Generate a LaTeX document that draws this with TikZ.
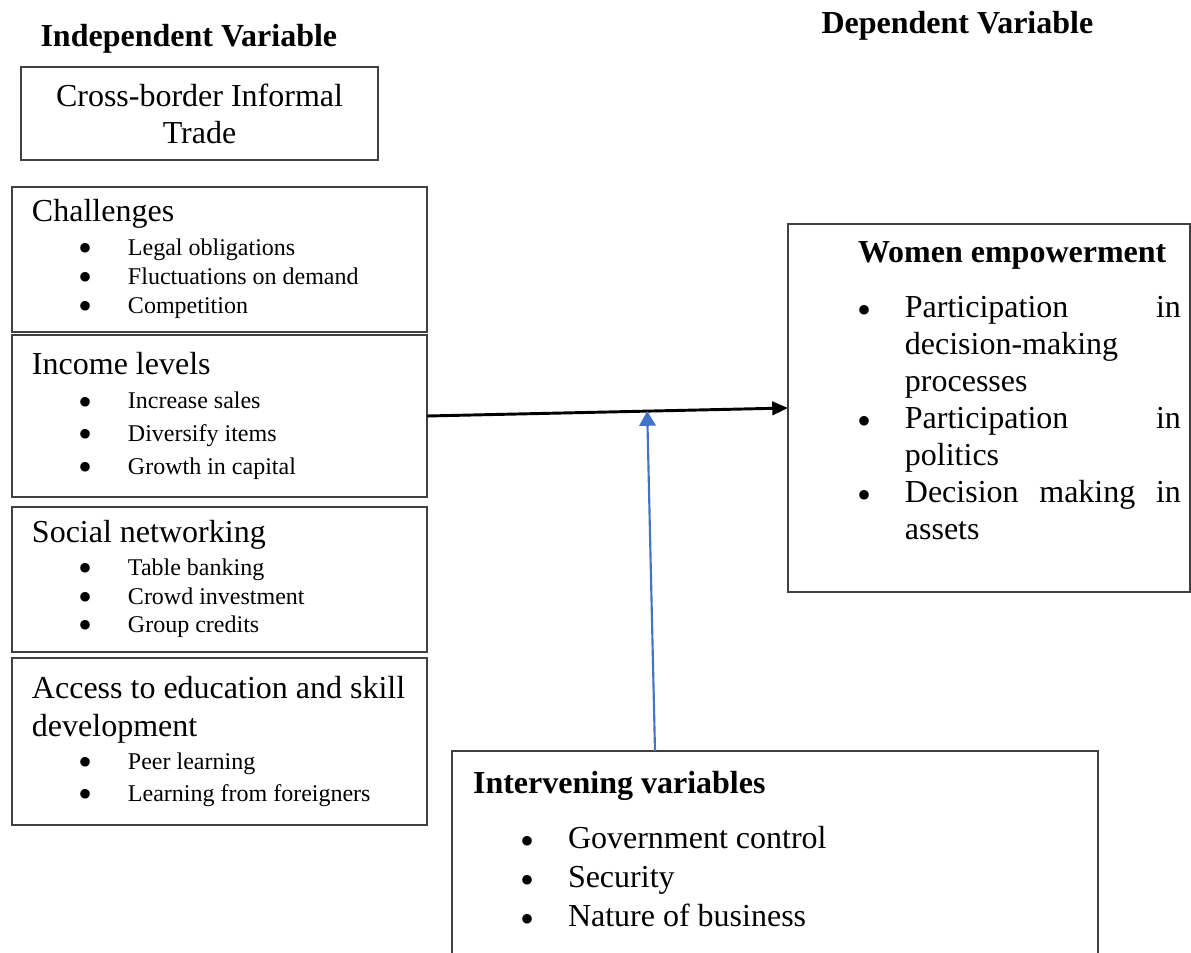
\documentclass[tikz,border=0pt]{standalone}
\usepackage{fontspec}
\setmainfont{Liberation Serif}
\usetikzlibrary{positioning,arrows.meta,calc}
\setlength{\parindent}{0pt}
\definecolor{ablue}{HTML}{4472C4}
\tikzstyle{vbox}=[rectangle, draw=black!75, line width=0.7pt, inner sep=0pt, outer sep=0pt]
\tikzstyle{lbox}=[vbox, minimum width=155.6pt, text width=140.6pt, inner xsep=7.5pt, align=left,
 execute at begin node={\spaceskip=0pt\xspaceskip=0pt\relax}]
\tikzstyle{ttl}=[inner sep=0pt, font={\fontsize{12}{13.9}\selectfont\bfseries}]
\tikzstyle{txt}=[inner sep=0pt, outer sep=0pt, align=left,
 execute at begin node={\spaceskip=0pt\xspaceskip=0pt\relax}]
\tikzstyle{blk}=[-{Triangle[length=5.9pt,width=5pt]}, line width=1.1pt, black]
\tikzstyle{bline}=[-{Triangle[length=5.5pt,width=6.2pt]}, line width=0.8pt, ablue]
\newcommand{\bdot}{\raisebox{-2.3pt}{\fontsize{15}{15}\selectfont\textbullet}}
\newcommand{\sm}[1]{\fontsize{9}{#1}\selectfont}
\newcommand{\lit}[1]{\hspace*{20.25pt}\makebox[0pt]{\bdot}\hspace*{15.75pt}#1}
\newcommand{\rit}[1]{\hspace*{2.6pt}\makebox[0pt]{\bdot}\hspace*{15pt}#1}
\newcommand{\iit}[1]{\hspace*{20.25pt}\makebox[0pt]{\bdot}\hspace*{15.35pt}#1}

\begin{document}
\begin{tikzpicture}[x=0.375pt, y=-0.375pt, font=\fontsize{12}{13.9}\selectfont]
\useasboundingbox (0,0) rectangle (1191,953);
\clip (0,0) rectangle (1191,953);

% headings
    \node (ivt) [ttl, anchor=base west] at (40,47) {Independent Variable};
    \node (dvt) [ttl, anchor=base west] at (821,33) {Dependent Variable};

% independent side
    \node (cbt) [vbox, anchor=north west, minimum width=133.9pt, minimum height=34.9pt, align=center] at (21,67)
	{Cross-border Informal\\Trade};

    \node (chl) [lbox, anchor=north west, minimum height=54.4pt] at (12,187)
	{Challenges\par\vspace{1.85pt}
	{\sm{10.9}\lit{Legal obligations}\par\lit{Fluctuations on demand}\par\lit{Competition}\par}};
    \node (inc) [lbox, minimum height=60.75pt, below=1.1pt of chl]
	{Income levels\par\vspace{0.9pt}
	{\sm{12.2}\lit{Increase sales}\par\lit{Diversify items}\par\lit{Growth in capital}\par}};
    \node (soc) [lbox, minimum height=54.4pt, below=3.75pt of inc]
	{Social networking\par\vspace{1.7pt}
	{\sm{10.7}\lit{Table banking}\par\lit{Crowd investment}\par\lit{Group credits}\par}};
    \node (edu) [lbox, minimum height=62.6pt, below=2.25pt of soc]
	{{\fontsize{12}{14.25}\selectfont\mbox{Access to education and skill}\newline development\par}\vspace{0.4pt}
	{\sm{12}\lit{Peer learning}\par\lit{Learning from foreigners}\par}};

% dependent side
    \node (wom) [vbox, anchor=north west, minimum width=150.75pt, minimum height=138pt] at (788,224) {};
    \node (womtxt) [txt, text width=121.1pt, below right=6.5pt and 26.25pt of wom.north west]
	{\textbf{Women empowerment}\par\vspace{6.7pt}
	{\fontsize{12}{13.9}\selectfont
	\rit{Participation\hfill in}\par
	\hspace*{17.6pt}decision-making\par
	\hspace*{17.6pt}processes\par
	\rit{Participation\hfill in}\par
	\hspace*{17.6pt}politics\par
	\rit{Decision\hfill making\hfill in}\par
	\hspace*{17.6pt}assets\par}};

% intervening
    \node (intv) [vbox, anchor=north west, minimum width=242.25pt, minimum height=100pt] at (452,751) {};
    \node (ivtxt) [txt, text width=220pt, below right=7.5pt and 7.9pt of intv.north west]
	{\textbf{Intervening variables}\par\vspace{6pt}
	{\fontsize{12}{14.6}\selectfont
	\iit{Government control}\par\iit{Security}\par\iit{Nature of business}\par}};

% lines
   \draw[blk] (inc.east) -- (wom.west);
   \coordinate (mid) at ($(inc.east)!0.61!(wom.west)$);
   \coordinate (ivtop) at ($(intv.north west)+(203,0)$);
   \draw[bline] (ivtop) -- (mid);
\end{tikzpicture}
\end{document}
